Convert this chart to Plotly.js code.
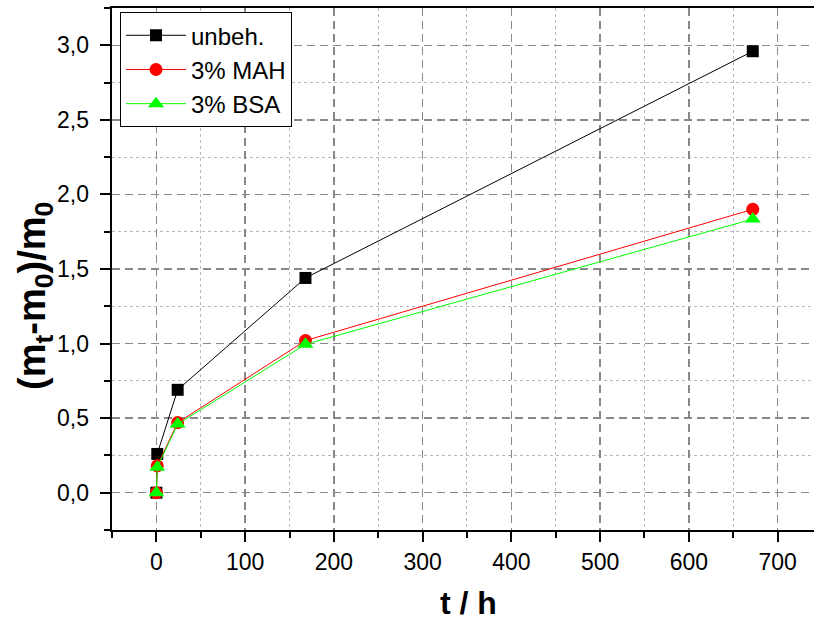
<!DOCTYPE html>
<html>
<head>
<meta charset="utf-8">
<script src="https://cdn.plot.ly/plotly-3.0.1.min.js"></script>
<style>html,body{margin:0;padding:0;overflow:hidden;background:#fff}</style>
</head>
<body>
<div id="chart" style="width:814px;height:620px"></div>
<script>
const tHours = [0, 1, 24, 168, 672];
const unbeh = [0, 0.26, 0.69, 1.44, 2.96];
const mah3 = [0, 0.18, 0.47, 1.02, 1.90];
const bsa3 = [0, 0.17, 0.46, 0.995, 1.835];
const seriesNames = ['unbeh.', '3% MAH', '3% BSA'];
const xTitle = 't / h';
const yTitle = '(m<sub>t</sub>-m<sub>0</sub>)/m<sub>0</sub>';

const FONT = 'Arial, "Liberation Sans", sans-serif';

const traces = [
  {x: tHours, y: unbeh, name: seriesNames[0], mode: 'lines+markers',
   line: {color: '#000000', width: 1}, marker: {symbol: 'square', size: 12, color: '#000000'}},
  {x: tHours, y: mah3, name: seriesNames[1], mode: 'lines+markers',
   line: {color: '#ff0000', width: 1}, marker: {symbol: 'circle', size: 13, color: '#ff0000'}},
  {x: tHours, y: bsa3, name: seriesNames[2], mode: 'lines+markers',
   line: {color: '#00ff00', width: 1}, marker: {symbol: 'triangle-up', size: 14, color: '#00ff00'}}
];

const layout = {
  width: 814, height: 620,
  margin: {l: 112, r: 0, t: 8, b: 90},
  paper_bgcolor: '#ffffff', plot_bgcolor: '#ffffff',
  separators: ',.',
  font: {family: FONT, size: 24, color: '#000000'},
  showlegend: true,
  legend: {
    x: 0.0114, y: 0.992, xanchor: 'left', yanchor: 'top',
    bgcolor: '#ffffff', bordercolor: '#000000', borderwidth: 1,
    font: {family: FONT, size: 24, color: '#000000'},
    itemwidth: 60, tracegroupgap: 0
  },
  xaxis: {
    range: [-50, 741], autorange: false,
    showline: true, linecolor: '#000000', linewidth: 2, mirror: true,
    ticks: 'outside', ticklen: 10, tickwidth: 2, tickcolor: '#000000',
    tickmode: 'linear', tick0: 0, dtick: 100,
    tickfont: {family: FONT, size: 23, color: '#000000'},
    showgrid: true, gridcolor: '#888888', gridwidth: 1.5, griddash: '8px,5px',
    zeroline: false,
    minor: {tick0: 0, dtick: 50, ticks: 'outside', ticklen: 6, tickwidth: 2, tickcolor: '#000000',
            showgrid: true, gridcolor: '#b8b8b8', gridwidth: 1, griddash: 'dot'},
    automargin: false
  },
  yaxis: {
    range: [-0.25, 3.25], autorange: false,
    showline: true, linecolor: '#000000', linewidth: 2, mirror: false,
    ticks: 'outside', ticklen: 10, tickwidth: 2, tickcolor: '#000000',
    tickmode: 'linear', tick0: 0, dtick: 0.5, tickformat: '.1f',
    ticksuffix: '\u00a0',
    tickfont: {family: FONT, size: 23, color: '#000000'},
    showgrid: true, gridcolor: '#888888', gridwidth: 1.5, griddash: '8px,5px',
    zeroline: false,
    minor: {tick0: 0, dtick: 0.25, ticks: 'outside', ticklen: 6, tickwidth: 2, tickcolor: '#000000',
            showgrid: true, gridcolor: '#b8b8b8', gridwidth: 1, griddash: 'dot'},
    automargin: false
  },
  annotations: [
    {text: '<b>' + xTitle + '</b>', xref: 'paper', yref: 'paper',
     x: (468 - 112) / 702, y: (530 - 603) / 522, xanchor: 'center', yanchor: 'middle',
     showarrow: false, font: {family: FONT, size: 32, color: '#000000'}},
    {text: '<b>' + yTitle + '</b>', xref: 'paper', yref: 'paper', textangle: -90,
     x: (35 - 112) / 702, y: (530 - 296) / 522, xanchor: 'center', yanchor: 'middle',
     showarrow: false, font: {family: FONT, size: 38, color: '#000000'}}
  ]
};

Plotly.newPlot('chart', traces, layout, {displayModeBar: false, staticPlot: true});
</script>
</body>
</html>
